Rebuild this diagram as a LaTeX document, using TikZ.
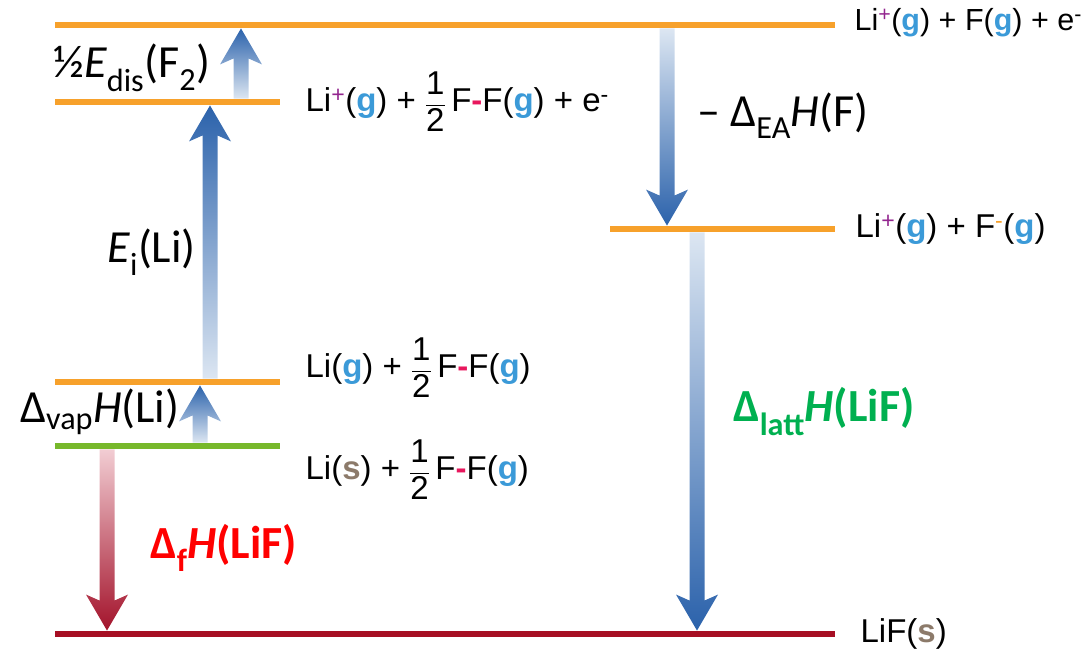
\documentclass[tikz,border=0pt]{standalone}
\usepackage{amsmath}
\usepackage{fontspec}
\setmainfont{Liberation Sans}
\newfontfamily\calib{Carlito}
\usetikzlibrary{positioning, calc}

\definecolor{lvlorange}{HTML}{F7A12B}
\definecolor{lvlgreen}{HTML}{77B82B}
\definecolor{lvlred}{HTML}{A60F23}
\definecolor{arrdark}{HTML}{2B62AB}
\definecolor{arrlight}{HTML}{DCE6F2}
\definecolor{redlight}{HTML}{F2CDD3}
\definecolor{reddark}{HTML}{A3132B}
\definecolor{gasblue}{HTML}{3B9AD8}
\definecolor{solbrown}{HTML}{8C7A6A}
\definecolor{pluspurple}{HTML}{93268F}
\definecolor{bondpink}{HTML}{E8175D}
\definecolor{latgreen}{HTML}{00B050}
\definecolor{formred}{HTML}{FF0000}

\newcommand{\gas}{(\textcolor{gasblue}{\textbf{g}})}
\newcommand{\sol}{(\textcolor{solbrown}{\textbf{s}})}
\newcommand{\lip}{Li\textsuperscript{\textcolor{pluspurple}{+}}}
\newcommand{\halfF}{\ensuremath{\dfrac{\text{1}}{\text{2}}}\,F\textcolor{bondpink}{\textbf{-}}F}

% fat shaded arrow: tail, tip, colour at top, colour at bottom
\newcommand{\fatarrow}[4]{%
  \coordinate (fa-t) at (#1);
  \coordinate (fa-h) at (#2);
  \coordinate (fa-j) at ($(fa-h)!30pt!(fa-t)$);
  \coordinate (fa-b) at ($(fa-h)!36pt!(fa-t)$);
  \shade[top color=#3, bottom color=#4]
    ($(fa-t)!7.5pt!90:(fa-h)$) -- ($(fa-j)!7.5pt!-90:(fa-t)$) -- ($(fa-b)!21pt!-90:(fa-t)$)
    -- (fa-h) -- ($(fa-b)!21pt!90:(fa-t)$) -- ($(fa-j)!7.5pt!90:(fa-t)$)
    -- ($(fa-t)!7.5pt!-90:(fa-h)$) -- cycle;}

\begin{document}
\begin{tikzpicture}[x=1pt, y=-1pt,
  enlevel/.style={fill=#1, draw=none, inner sep=0pt, minimum height=6.5pt, anchor=west},
  species/.style={font=\fontsize{33}{37}\selectfont, inner sep=0pt, anchor=west},
  big/.style={font=\calib\fontsize{46}{52}\selectfont, inner sep=0pt}]
\useasboundingbox (0,0) rectangle (1092,648);

% energy levels
\node[enlevel=lvlorange, minimum width=780pt] (top) at (55,25) {};
\node[enlevel=lvlorange, minimum width=225pt] (half) at (55,102) {};
\node[enlevel=lvlorange, minimum width=225pt] (ion) at (610,229) {};
\node[enlevel=lvlorange, minimum width=225pt] (lig) at (55,382) {};
\node[enlevel=lvlgreen, minimum width=225pt] (lis) at (55,446) {};
\node[enlevel=lvlred, minimum width=780pt] (lif) at (55,634) {};

% species
\node[species, font=\fontsize{30.5}{35}\selectfont, right=19pt of top, yshift=2pt] (sptop) {\lip\gas\ + F\gas\ + e\textsuperscript{-}};
\node[species, right=25pt of half] (sphalf) {\lip\gas\ + \halfF\gas\ + e\textsuperscript{-}};
\node[species, right=20pt of ion] (spion) {\lip\gas\ + F\textsuperscript{\textcolor{lvlorange}{-}}\gas};
\node[species, right=25pt of lig, yshift=14pt] (splig) {Li\gas\ + \halfF\gas};
\node[species, right=25pt of lis, yshift=-24pt] (splis) {Li\sol\ + \halfF\gas};
\node[species, right=25pt of lif] (splif) {LiF\sol};

% arrow columns
\coordinate (xdis) at (241,0);
\coordinate (xei) at (210,0);
\coordinate (xvap) at (200,0);
\coordinate (xea) at (667,0);
\coordinate (xlatt) at (697,0);
\coordinate (xf) at (107,0);

\fatarrow{half.north -| xdis}{top.south -| xdis}{arrdark}{arrlight}
\fatarrow{lig.north -| xei}{half.south -| xei}{arrdark}{arrlight}
\fatarrow{lis.north -| xvap}{lig.south -| xvap}{arrdark}{arrlight}
\fatarrow{top.south -| xea}{ion.north -| xea}{arrlight}{arrdark}
\fatarrow{ion.south -| xlatt}{lif.north -| xlatt}{arrlight}{arrdark}
\fatarrow{lis.south -| xf}{lif.north -| xf}{redlight}{reddark}

% energy terms
\node[big, anchor=west] (edis) at (53,68) {½\textit{E}\textsubscript{dis}(F\textsubscript{2})};
\node[big, anchor=east] (ei) at (196,252) {\textit{E}\textsubscript{i}(Li)};
\node[big, anchor=west] (evap) at (20,412) {Δ\textsubscript{vap}\textit{H}(Li)};
\node[big, anchor=west] (eea) at (697,116) {– Δ\textsubscript{EA}\textit{H}(F)};
\node[big, anchor=west, text=latgreen, font=\calib\bfseries\fontsize{46}{52}\selectfont] (elatt) at (733,412) {Δ\textsubscript{latt}\textit{H}(LiF)};
\node[big, anchor=west, text=formred, font=\calib\bfseries\fontsize{46}{52}\selectfont] (ef) at (150,548) {Δ\textsubscript{f}\textit{H}(LiF)};
\end{tikzpicture}
\end{document}
